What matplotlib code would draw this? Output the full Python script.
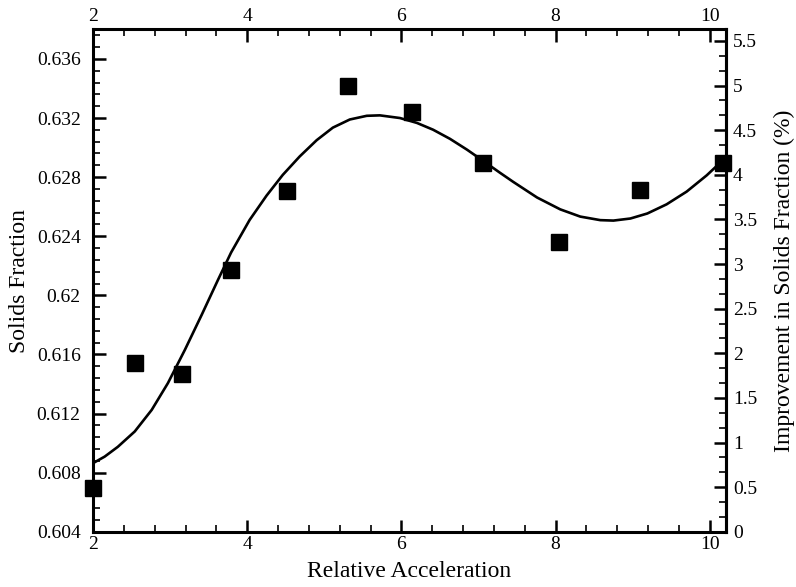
import matplotlib
matplotlib.use("Agg")
import matplotlib.pyplot as plt
from matplotlib.ticker import MultipleLocator, FuncFormatter

# Measured data (squares)
accel = [2.00, 2.54, 3.15, 3.79, 4.52, 5.31, 6.14, 7.06, 8.05, 9.09, 10.17]
solids = [0.60696, 0.61545, 0.61467, 0.62173, 0.62707, 0.63418, 0.63240,
          0.62895, 0.62360, 0.62714, 0.62895]

# Fitted curve
curve_x = [2.00, 2.15, 2.32, 2.54, 2.76, 2.97, 3.19, 3.41, 3.62, 3.79, 4.03,
           4.25, 4.46, 4.68, 4.90, 5.11, 5.33, 5.55, 5.72, 5.98, 6.20, 6.41,
           6.63, 6.85, 7.06, 7.28, 7.45, 7.76, 8.06, 8.32, 8.58, 8.75, 8.97,
           9.19, 9.44, 9.70, 9.96, 10.14, 10.21]
curve_y = [0.60865, 0.60909, 0.60975, 0.61079, 0.61225, 0.61406, 0.61631,
           0.61870, 0.62105, 0.62290, 0.62510, 0.62675, 0.62815, 0.62940,
           0.63050, 0.63135, 0.63190, 0.63215, 0.63218, 0.63200, 0.63167,
           0.63121, 0.63059, 0.62986, 0.62910, 0.62829, 0.62768, 0.62662,
           0.62582, 0.62533, 0.62509, 0.62506, 0.62520, 0.62554, 0.62616,
           0.62702, 0.62812, 0.62900, 0.62940]

base = 0.604

plt.rcParams['font.family'] = ['Liberation Serif', 'DejaVu Serif']

fig = plt.figure(figsize=(7.96, 5.87), dpi=100)
ax = fig.add_axes([0.117, 0.094, 0.795, 0.856])

ax.plot(curve_x, curve_y, color='black', lw=1.9, zorder=2,
        solid_joinstyle='round', solid_capstyle='round')
ax.plot(accel, solids, 's', color='black', markersize=11.5, zorder=3, clip_on=False)

ax.set_xlim(2, 10.21)
ax.set_ylim(0.604, 0.6380)

ax.xaxis.set_major_locator(MultipleLocator(2))
ax.xaxis.set_minor_locator(MultipleLocator(0.4))
ax.yaxis.set_major_locator(MultipleLocator(0.004))
ax.yaxis.set_minor_locator(MultipleLocator(0.0008))
ax.yaxis.set_major_formatter(FuncFormatter(lambda v, p: f"{v:.3f}".rstrip('0')))
ax.xaxis.set_major_formatter(FuncFormatter(lambda v, p: f"{v:g}"))

ax.tick_params(which='both', direction='in', top=True, labeltop=True,
               right=False, labelsize=14, width=1.8)
ax.tick_params(axis='y', pad=9)
ax.tick_params(axis='x', pad=3)
ax.tick_params(which='major', length=9)
ax.tick_params(which='minor', length=5, width=1.2)
for s in ax.spines.values():
    s.set_linewidth(2.2)

ax.set_xlabel('Relative Acceleration', fontsize=17, labelpad=6)
ax.set_ylabel('Solids Fraction', fontsize=17, labelpad=5)

sec = ax.secondary_yaxis('right', functions=(lambda v: (v / base - 1) * 100,
                                             lambda r: base * (1 + r / 100)))
sec.yaxis.set_major_locator(MultipleLocator(0.5))
sec.yaxis.set_minor_locator(MultipleLocator(0.5 / 3))
sec.yaxis.set_major_formatter(FuncFormatter(lambda v, p: f"{v:g}"))
sec.tick_params(which='both', direction='in', labelsize=14, width=1.8, pad=5)
sec.tick_params(which='major', length=9)
sec.tick_params(which='minor', length=5, width=1.2)
sec.spines['right'].set_linewidth(2.2)
sec.set_ylabel('Improvement in Solids Fraction (%)', fontsize=17, labelpad=12)

fig.savefig('out.png', dpi=100)
